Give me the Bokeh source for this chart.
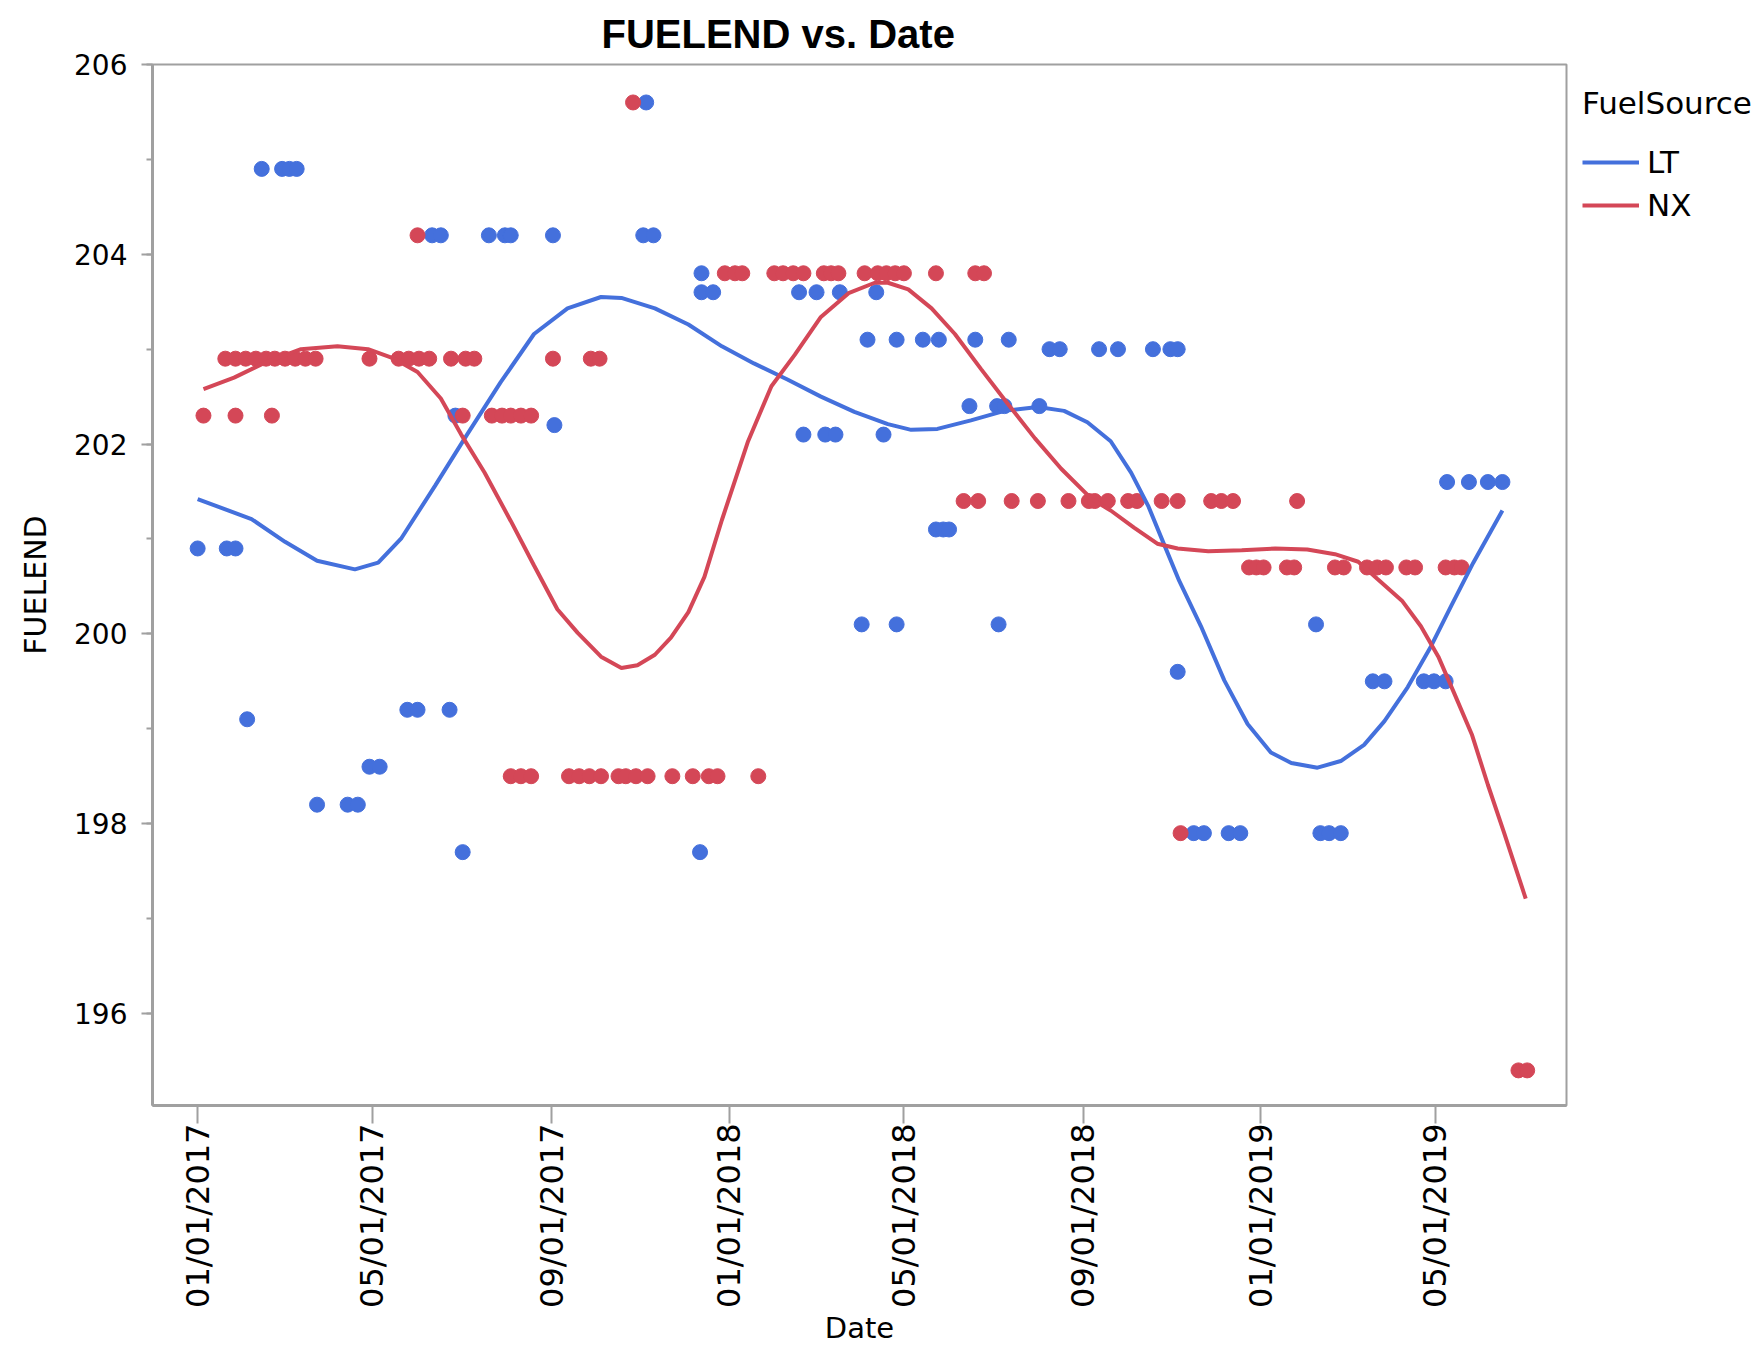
import math
import numpy as np
import pandas as pd
from bokeh.plotting import figure
from bokeh.layouts import row
from bokeh.models import (ColumnDataSource, Legend, LegendItem, FixedTicker,
                          SingleIntervalTicker, DatetimeTickFormatter, Range1d)
from bokeh.embed import file_html
from bokeh.resources import INLINE

# ---------------- data ----------------
BASE_DATE = "2017-01-01"          # day 0 of the day offsets below

# LT observations (days since BASE_DATE, FUELEND)
lt_days = [0, 20, 26, 34, 44, 58, 63, 68, 82, 103, 110, 118, 125, 144, 151, 161, 167,
           173, 177, 182, 200, 211, 215, 244, 245, 306, 308, 313, 345, 346, 346, 354,
           413, 416, 425, 431, 438, 441, 456, 460, 466, 471, 480, 480, 498, 507, 509,
           512, 516, 530, 534, 549, 550, 554, 557, 578, 585, 592, 619, 632, 656, 668,
           673, 673, 684, 691, 708, 716, 768, 771, 777, 785, 807, 815, 842, 849, 857,
           858, 873, 886, 896]
lt_fuelend = [200.9, 200.9, 200.9, 199.1, 204.9, 204.9, 204.9, 204.9, 198.2, 198.2, 198.2,
              198.6, 198.6, 199.2, 199.2, 204.2, 204.2, 199.2, 202.3, 197.7, 204.2, 204.2,
              204.2, 204.2, 202.2, 204.2, 205.6, 204.2, 197.7, 203.8, 203.6, 203.6, 203.6,
              202.1, 203.6, 202.1, 202.1, 203.6, 200.1, 203.1, 203.6, 202.1, 200.1, 203.1,
              203.1, 201.1, 203.1, 201.1, 201.1, 202.4, 203.1, 202.4, 200.1, 202.4, 203.1,
              202.4, 203.0, 203.0, 203.0, 203.0, 203.0, 203.0, 203.0, 199.6, 197.9, 197.9,
              197.9, 197.9, 200.1, 197.9, 197.9, 197.9, 199.5, 199.5, 199.5, 199.5, 199.5,
              201.6, 201.6, 201.6, 201.6]

# NX observations (days since BASE_DATE, FUELEND)
nx_days = [4, 19, 26, 26, 33, 40, 47, 51, 53, 60, 67, 74, 81, 118, 138, 145, 151, 152,
           159, 174, 182, 184, 190, 202, 209, 215, 215, 222, 222, 229, 229, 244, 255, 262,
           269, 270, 276, 277, 289, 294, 299, 301, 309, 326, 340, 351, 357, 362, 369, 374,
           385, 396, 402, 409, 416, 430, 435, 440, 458, 467, 473, 479, 485, 507, 526, 534,
           536, 540, 559, 577, 598, 612, 616, 625, 639, 645, 662, 673, 675, 696, 703, 711,
           722, 727, 732, 748, 753, 755, 781, 787, 803, 810, 816, 830, 836, 857, 863, 868,
           907, 913]
nx_fuelend = [202.3, 202.9, 202.9, 202.3, 202.9, 202.9, 202.9, 202.3, 202.9, 202.9, 202.9,
              202.9, 202.9, 202.9, 202.9, 202.9, 204.2, 202.9, 202.9, 202.9, 202.3, 202.9,
              202.9, 202.3, 202.3, 202.3, 198.5, 202.3, 198.5, 202.3, 198.5, 202.9, 198.5,
              198.5, 198.5, 202.9, 202.9, 198.5, 198.5, 198.5, 205.6, 198.5, 198.5, 198.5,
              198.5, 198.5, 198.5, 203.8, 203.8, 203.8, 198.5, 203.8, 203.8, 203.8, 203.8,
              203.8, 203.8, 203.8, 203.8, 203.8, 203.8, 203.8, 203.8, 203.8, 201.4, 203.8,
              201.4, 203.8, 201.4, 201.4, 201.4, 201.4, 201.4, 201.4, 201.4, 201.4, 201.4,
              201.4, 197.9, 201.4, 201.4, 201.4, 200.7, 200.7, 200.7, 200.7, 200.7, 201.4,
              200.7, 200.7, 200.7, 200.7, 200.7, 200.7, 200.7, 200.7, 200.7, 200.7,
              195.4, 195.4]

# smoother curves (days since BASE_DATE, FUELEND)
lt_fit_days = [0, 37, 60, 82, 108, 124, 140, 163, 185, 208, 231, 254, 277, 291, 314, 337,
               360, 382, 405, 428, 451, 474, 490, 508, 531, 554, 577, 595, 611, 627, 641,
               653, 664, 674, 689, 705, 721, 737, 751, 769, 785, 801, 815, 831, 847, 861,
               876, 896]
lt_fit_vals = [201.42, 201.21, 200.97, 200.77, 200.68, 200.75, 201.01, 201.56, 202.10,
               202.65, 203.16, 203.43, 203.55, 203.54, 203.43, 203.26, 203.03, 202.85,
               202.68, 202.50, 202.34, 202.21, 202.15, 202.16, 202.25, 202.35, 202.39,
               202.35, 202.23, 202.03, 201.70, 201.34, 200.93, 200.56, 200.08, 199.51,
               199.05, 198.75, 198.64, 198.59, 198.66, 198.83, 199.08, 199.44, 199.87,
               200.30, 200.75, 201.30]

nx_fit_days = [4, 25, 48, 71, 96, 117, 135, 151, 167, 181, 197, 215, 231, 247, 261, 277,
               291, 302, 314, 325, 337, 348, 360, 378, 394, 410, 428, 447, 465, 474, 488,
               504, 520, 538, 556, 575, 593, 614, 627, 643, 659, 673, 694, 717, 740, 762,
               781, 797, 810, 827, 840, 852, 863, 875, 886, 897, 912]
nx_fit_vals = [202.58, 202.70, 202.87, 203.00, 203.03, 203.00, 202.90, 202.76, 202.48,
               202.10, 201.70, 201.19, 200.72, 200.26, 200.01, 199.76, 199.64, 199.67,
               199.78, 199.96, 200.23, 200.60, 201.20, 202.03, 202.61, 202.94, 203.34,
               203.59, 203.70, 203.70, 203.63, 203.43, 203.16, 202.79, 202.43, 202.06,
               201.74, 201.42, 201.30, 201.12, 200.95, 200.90, 200.87, 200.88, 200.90,
               200.89, 200.84, 200.76, 200.58, 200.35, 200.08, 199.76, 199.37, 198.94,
               198.41, 197.91, 197.21]

series_names = ["LT", "NX"]
legend_title = "FuelSource"

x_tick_dates = ["2017-01-01", "2017-05-01", "2017-09-01", "2018-01-01",
                "2018-05-01", "2018-09-01", "2019-01-01", "2019-05-01"]
x_start, x_end = "2016-12-01", "2019-07-30"
y_start, y_end = 195.03, 206.0

BLUE = "#4470DC"
RED = "#D44757"
AXIS_GREY = "#A0A0A0"

# ---------------- helpers ----------------
base = pd.Timestamp(BASE_DATE)


def to_dates(days):
    return base + pd.to_timedelta(np.asarray(days, dtype=float), unit="D")


lt_src = ColumnDataSource(dict(x=to_dates(lt_days), y=lt_fuelend))
nx_src = ColumnDataSource(dict(x=to_dates(nx_days), y=nx_fuelend))
lt_fit_src = ColumnDataSource(dict(x=to_dates(lt_fit_days), y=lt_fit_vals))
nx_fit_src = ColumnDataSource(dict(x=to_dates(nx_fit_days), y=nx_fit_vals))

H = 1347
BORDER_TOP, BORDER_BOTTOM = 64, 242

p = figure(width=1568, height=H, x_axis_type="datetime",
           x_range=Range1d(pd.Timestamp(x_start), pd.Timestamp(x_end)),
           y_range=Range1d(y_start, y_end),
           output_backend="svg", toolbar_location=None, tools="",
           min_border_left=152, min_border_top=BORDER_TOP, min_border_right=2,
           min_border_bottom=BORDER_BOTTOM)

p.background_fill_color = "white"
p.border_fill_color = "white"
p.outline_line_color = AXIS_GREY
p.outline_line_width = 2
p.xgrid.visible = False
p.ygrid.visible = False

# title
p.title.text = "FUELEND vs. Date"
p.title.align = "left"
p.title.offset = 449
p.title.text_font = "Liberation Sans"
p.title.text_font_size = "40px"
p.title.text_font_style = "bold"
p.title.text_color = "black"
p.title.standoff = 17

# points
p.scatter("x", "y", source=lt_src, size=15, color=BLUE, line_color=BLUE)
p.scatter("x", "y", source=nx_src, size=15, color=RED, line_color=RED)

# smoothers
p.line("x", "y", source=lt_fit_src, line_color=BLUE, line_width=4)
p.line("x", "y", source=nx_fit_src, line_color=RED, line_width=4)

# x axis
tick_ms = [float(pd.Timestamp(d).value // 10**6) for d in x_tick_dates]
xa = p.xaxis[0]
xa.ticker = FixedTicker(ticks=tick_ms)
fmt = "%m/%d/%Y"
xa.formatter = DatetimeTickFormatter(microseconds=fmt, milliseconds=fmt, seconds=fmt,
                                     minsec=fmt, minutes=fmt, hourmin=fmt, hours=fmt,
                                     days=fmt, months=fmt, years=fmt,
                                     strip_leading_zeros=False)
xa.major_label_orientation = math.pi / 2
xa.axis_label = "Date"

ya = p.yaxis[0]
ya.ticker = SingleIntervalTicker(interval=2, num_minor_ticks=2)
ya.axis_label = "FUELEND"

for ax in (xa, ya):
    ax.axis_line_color = AXIS_GREY
    ax.axis_line_width = 3
    ax.major_tick_line_color = AXIS_GREY
    ax.major_tick_line_width = 2
    ax.minor_tick_line_color = AXIS_GREY
    ax.minor_tick_line_width = 2
    ax.major_tick_in = 0
    ax.minor_tick_in = 0
    ax.major_label_text_font = "DejaVu Sans"
    ax.major_label_text_color = "black"
    ax.axis_label_text_font = "DejaVu Sans"
    ax.axis_label_text_font_style = "normal"
    ax.axis_label_text_color = "black"

xa.major_tick_out = 18
xa.minor_tick_line_color = None
xa.major_label_text_font_size = "32px"
xa.major_label_standoff = 0
xa.axis_label_text_font_size = "29px"
xa.axis_label_standoff = 0

ya.major_tick_out = 11
ya.minor_tick_out = 6
ya.major_label_text_font_size = "28px"
ya.major_label_standoff = 14
ya.axis_label_text_font_size = "30px"
ya.axis_label_standoff = 18

# ---------------- legend panel (to the right of the plot frame) ----------------
# same top/bottom borders as the main plot so the row keeps both frames aligned
lg = figure(width=195, height=H, x_range=Range1d(0, 1), y_range=Range1d(0, 1),
            output_backend="svg", toolbar_location=None, tools="",
            min_border_left=14, min_border_right=0,
            min_border_top=BORDER_TOP, min_border_bottom=BORDER_BOTTOM)
lg.axis.visible = False
lg.xgrid.visible = False
lg.ygrid.visible = False
lg.outline_line_color = None
lg.background_fill_color = "white"
lg.border_fill_color = "white"

# legend keys: same series, but this panel's ranges keep the lines out of view
lt_key = lg.line("x", "y", source=lt_fit_src, line_color=BLUE, line_width=4)
nx_key = lg.line("x", "y", source=nx_fit_src, line_color=RED, line_width=4)

legend = Legend(items=[LegendItem(label=series_names[0], renderers=[lt_key]),
                       LegendItem(label=series_names[1], renderers=[nx_key])],
                title=legend_title, location=(0, 881),
                orientation="vertical",
                border_line_color=None, background_fill_alpha=0,
                padding=0, margin=0, glyph_width=57, glyph_height=38,
                label_height=38, spacing=5, label_standoff=8,
                label_text_font="DejaVu Sans", label_text_font_size="31px",
                label_text_color="black",
                title_text_font="DejaVu Sans", title_text_font_size="31px",
                title_text_font_style="normal", title_text_color="black",
                title_standoff=22)
lg.add_layout(legend)

layout = row(p, lg, spacing=0)

open("out.html", "w").write(file_html(layout, INLINE))
